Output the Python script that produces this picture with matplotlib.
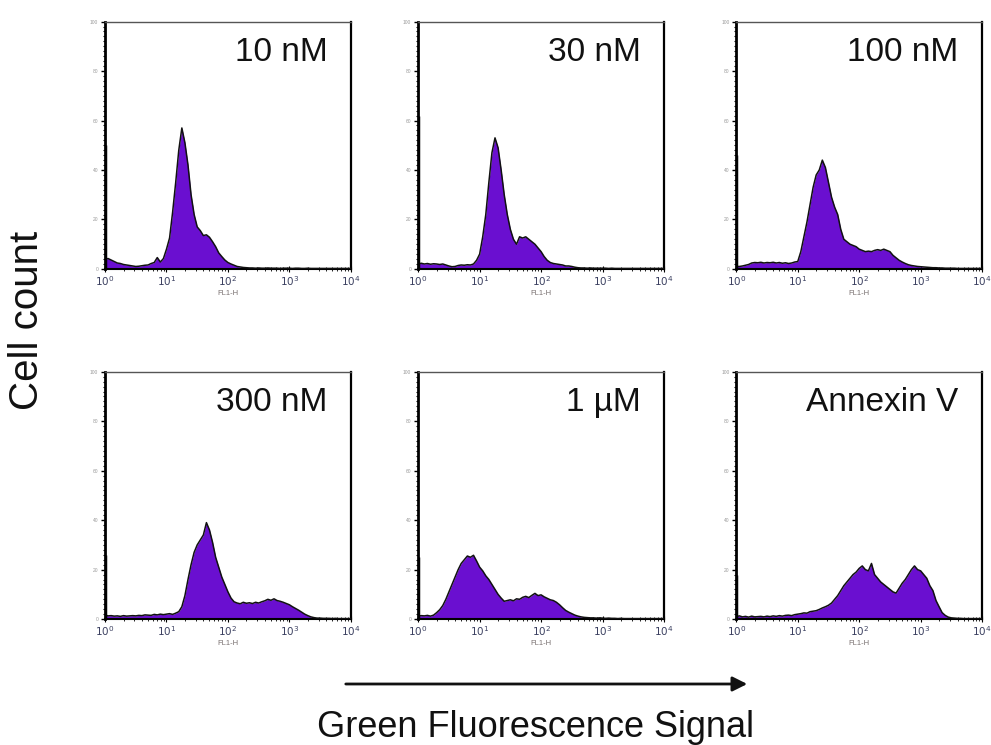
import numpy as np
import matplotlib
matplotlib.use("Agg")
import matplotlib.pyplot as plt
from matplotlib.patches import FancyArrowPatch
from matplotlib.ticker import MultipleLocator, LogLocator, NullFormatter

plt.rcParams['font.family'] = ['Liberation Sans', 'DejaVu Sans']

# channel centres in decades (0.05 decade bins, 10^0 .. 10^4)
decades = np.arange(81) * 0.05

labels = ["10 nM", "30 nM", "100 nM", "300 nM", "1 \u00b5M", "Annexin V"]

# counts, as % of the plot height
counts_10nM = [
    4.0, 4.2, 3.6, 3.0, 2.4, 2.2, 1.8, 1.6, 1.4, 1.2,
    1.0, 1.1, 1.3, 1.5, 1.6, 2.2, 2.6, 4.6, 2.8, 4.2,
    8.0, 12.5, 23, 35, 48, 57, 51, 42, 30, 22,
    17, 15.5, 13.5, 13.8, 12.8, 11, 9, 6.5, 5, 3.6,
    2.6, 2.0, 1.5, 1.0, 0.8, 0.6, 0.5, 0.4, 0.4, 0.3,
    0.4, 0.3, 0.3, 0.4, 0.3, 0.3, 0.3, 0.2, 0.3, 0.3,
    0.3, 0.2, 0.3, 0.3, 0.2, 0.2, 0.3, 0.2, 0.2, 0.2,
    0.2, 0.2, 0.2, 0.2, 0.2, 0.2, 0.2, 0.2, 0.2, 0.2,
    0.2]
counts_30nM = [
    2.0, 2.3, 2.0, 2.2, 1.9, 2.1, 2.0, 1.8, 2.0, 1.6,
    1.2, 0.9, 1.0, 1.4, 1.6, 1.5, 1.7, 1.6, 2.0, 3.5,
    6, 13, 22, 35, 47, 53, 49, 40, 30, 22,
    16, 12, 10, 13, 12.5, 13, 12, 11, 10, 8.5,
    7, 5, 3.5, 2.6, 2.2, 2.0, 1.8, 1.6, 1.2, 1.2,
    1.0, 0.7, 0.5, 0.4, 0.4, 0.3, 0.4, 0.3, 0.3, 0.3,
    0.3, 0.3, 0.2, 0.3, 0.2, 0.2, 0.2, 0.2, 0.2, 0.2,
    0.2, 0.2, 0.2, 0.2, 0.2, 0.2, 0.2, 0.2, 0.2, 0.2,
    0.2]
counts_100nM = [
    1.0, 1.0, 1.2, 1.5, 1.8, 2.4, 2.6, 2.5, 2.7, 2.4,
    2.6, 2.5, 2.7, 2.4, 2.6, 2.3, 2.5, 2.2, 2.4, 2.8,
    3.0, 7, 13, 19, 26, 33, 38, 40, 44, 41,
    35, 29, 25, 22, 16, 12, 11, 10, 9.5, 9,
    8, 7.5, 7, 7.2, 7, 7.5, 7.8, 7.5, 8, 7.5,
    7, 5.5, 4.5, 3.5, 2.8, 2.2, 1.7, 1.4, 1.2, 1.0,
    0.9, 0.8, 0.7, 0.6, 0.5, 0.5, 0.4, 0.4, 0.3, 0.3,
    0.3, 0.3, 0.2, 0.2, 0.2, 0.2, 0.2, 0.2, 0.2, 0.2,
    0.2]
counts_300nM = [
    1.6, 1.3, 1.4, 1.2, 1.3, 1.1, 1.4, 1.2, 1.3, 1.4,
    1.3, 1.5, 1.4, 1.7, 1.6, 1.5, 1.9, 1.7, 2.0, 1.8,
    2.0, 2.2, 1.9, 2.4, 3.0, 5.0, 9.5, 16, 22, 27,
    30, 32, 34, 39, 36, 31, 25, 21, 17, 14,
    11, 8.5, 7, 6.5, 6.2, 6.8, 6.4, 6.6, 6.3, 6.8,
    6.5, 7.0, 7.4, 8.0, 7.6, 8.2, 7.5, 7.2, 6.8, 6.3,
    5.8, 5.0, 4.3, 3.6, 2.8, 2.0, 1.4, 0.9, 0.6, 0.4,
    0.4, 0.3, 0.3, 0.3, 0.2, 0.3, 0.2, 0.2, 0.2, 0.2,
    0.2]
counts_1uM = [
    1.2, 1.4, 1.3, 1.5, 1.2, 1.6, 2.6, 3.8, 5.5, 8,
    11, 14, 17, 20, 22.5, 24, 25.5, 25, 25.8, 23.5,
    21, 19.5, 17.5, 16, 14, 12, 10, 8.5, 7.2, 7.5,
    7.8, 7.4, 8.2, 8.0, 8.8, 9.2, 8.7, 9.6, 10.4, 9.5,
    9.8, 9.0, 8.4, 7.8, 7.5, 6.8, 5.8, 4.6, 3.5, 2.8,
    2.2, 1.6, 1.2, 0.9, 0.7, 0.6, 0.5, 0.5, 0.4, 0.5,
    0.4, 0.3, 0.4, 0.3, 0.3, 0.2, 0.3, 0.2, 0.2, 0.2,
    0.2, 0.2, 0.2, 0.2, 0.2, 0.2, 0.2, 0.2, 0.2, 0.2,
    0.2]
counts_annexin = [
    1.0, 1.3, 0.9, 1.1, 0.8, 1.2, 0.9, 1.0, 1.1, 0.9,
    1.2, 1.0, 1.3, 1.1, 1.4, 1.2, 1.5, 1.6, 1.4, 1.8,
    2.0, 2.2, 2.5, 2.4, 3.0, 3.2, 3.4, 3.9, 4.5, 5.0,
    5.6, 6.5, 8.0, 9.5, 11.5, 13.5, 15, 16.5, 18, 19,
    20.5, 21.5, 20, 19.5, 22.5, 18, 16.5, 15, 14, 13,
    12, 11, 10.5, 12.5, 14.5, 16, 18, 20, 21.5, 20,
    19.5, 18, 16.5, 13.5, 11.5, 7.5, 5, 2.6, 1.5, 0.8,
    0.5, 0.4, 0.3, 0.3, 0.2, 0.2, 0.2, 0.2, 0.2, 0.2,
    0.2]

# off-scale pile-up in the first channel (drawn along the left spine)
first_channel = [50, 62, 46, 26, 25, 18]

all_counts = [counts_10nM, counts_30nM, counts_100nM,
              counts_300nM, counts_1uM, counts_annexin]

purple = '#6a0fd0'

fig = plt.figure(figsize=(9.91, 7.45), dpi=100)

lefts = [0.106, 0.422, 0.743]
bottoms = [0.639, 0.169]
w, h = 0.248, 0.332

for i, (lab, cnt) in enumerate(zip(labels, all_counts)):
    r, c = divmod(i, 3)
    ax = fig.add_axes([lefts[c], bottoms[r], w, h])
    x = 10 ** decades
    y = np.asarray(cnt)
    ax.fill_between(x, 0, y, color=purple, lw=0, zorder=2)
    ax.plot(x, y, color='#111111', lw=1.1, zorder=3)
    ax.vlines(1.0, 0, first_channel[i], color='black', lw=2.5, zorder=4)

    ax.set_xscale('log')
    ax.set_xlim(1, 1e4)
    ax.set_ylim(0, 100)
    ax.set_xticks([1, 10, 100, 1000, 10000])
    ax.set_xticklabels([r'$10^{0}$', r'$10^{1}$', r'$10^{2}$', r'$10^{3}$', r'$10^{4}$'])
    ax.xaxis.set_minor_locator(LogLocator(base=10, subs=np.arange(2, 10)))
    ax.xaxis.set_minor_formatter(NullFormatter())
    ax.tick_params(axis='x', which='major', direction='inout', length=4, width=0.8,
                   labelsize=7.5, labelcolor='#3b4060', pad=2)
    ax.tick_params(axis='x', which='minor', direction='inout', length=2.5, width=0.6)
    ax.set_xlabel('FL1-H', fontsize=5.5, color='#7a7272', labelpad=1)

    ax.yaxis.set_major_locator(MultipleLocator(20))
    ax.yaxis.set_minor_locator(MultipleLocator(2))
    ax.tick_params(axis='y', which='major', direction='out', length=3, width=1.0,
                   labelsize=3.5, labelcolor='#9a9a9a', pad=2)
    ax.tick_params(axis='y', which='minor', direction='out', length=1.8, width=0.8)

    ax.spines['left'].set_linewidth(2.0)
    ax.spines['bottom'].set_linewidth(1.5)
    ax.spines['right'].set_linewidth(1.6)
    ax.spines['top'].set_linewidth(1.0)
    ax.spines['top'].set_color('#555555')

    ax.text(0.905, 0.84, lab, transform=ax.transAxes, ha='right', va='baseline',
            fontsize=24, color='#111111')

fig.text(0.027, 1 - 320 / 745, 'Cell count', rotation=90, ha='center', va='center',
         fontsize=29, color='#111111')
fig.text(0.54, 1 - 737 / 745, 'Green Fluorescence Signal', ha='center', va='baseline',
         fontsize=26, color='#111111')

arrow = FancyArrowPatch((343 / 991, 1 - 684 / 745), (750 / 991, 1 - 684 / 745),
                        transform=fig.transFigure, arrowstyle='-|>',
                        mutation_scale=22, lw=2, color='#111111')
fig.add_artist(arrow)

fig.savefig('out.png', dpi=100)
